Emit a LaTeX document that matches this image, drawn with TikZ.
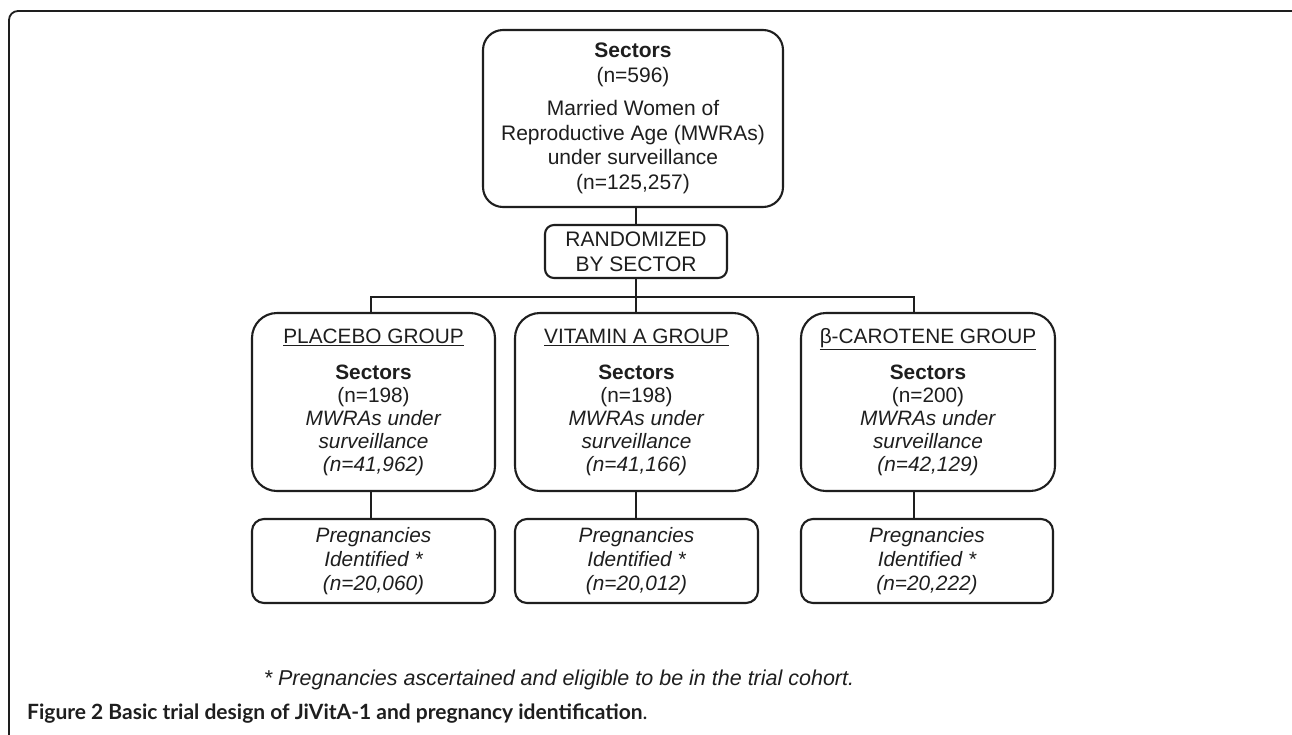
\documentclass[tikz,border=0pt]{standalone}
\usepackage{fontspec}
\setmainfont{Liberation Sans}
\newfontfamily\capfont{Lato}
\definecolor{ink}{HTML}{1E1E1E}
\begin{document}
\begin{tikzpicture}[x=1pt,y=-1pt,
  txt/.style={font=\fontsize{20.8}{24}\selectfont, text=ink, align=center, inner sep=0pt},
  rbox/.style={txt, draw=ink, line width=2.1pt, rectangle},
  topbox/.style={rbox, rounded corners=20pt, minimum width=300pt, minimum height=177pt},
  randbox/.style={rbox, rounded corners=9pt, minimum width=182pt, minimum height=53pt},
  groupbox/.style={rbox, rounded corners=25pt, minimum height=178pt},
  pregbox/.style={rbox, rounded corners=12pt, minimum height=84pt, font=\itshape\fontsize{20.8}{24}\selectfont},
  conn/.style={draw=ink, line width=2.1pt},
  frame/.style={draw=ink, line width=1.8pt, rounded corners=9pt}]
\useasboundingbox (0,0) rectangle (1292,734);
\fill[white] (0,0) rectangle (1292,734);
\draw[frame] (9,745) -- (9,11) -- (1301,11) -- (1301,745);

\node[topbox, font=\fontsize{21}{24.8}\selectfont] (top) at (633,118.5) {\textbf{Sectors}\\ (n=596)\\[8pt] Married Women of\\ Reproductive Age (MWRAs)\\ under surveillance\\ (n=125,257)};
\node[randbox, font=\fontsize{21}{25}\selectfont] (rand) at (636,251.5) {RANDOMIZED\\ BY SECTOR};

\node[groupbox, minimum width=243pt, font=\fontsize{20.8}{23}\selectfont] (pl) at (373.5,402)
  {\underline{PLACEBO GROUP}\\[13pt] \textbf{Sectors}\\ (n=198)\\ \textit{MWRAs under}\\ \textit{surveillance}\\ \textit{(n=41,962)}};
\node[groupbox, minimum width=243pt, font=\fontsize{20.8}{23}\selectfont] (va) at (636.5,402)
  {\underline{VITAMIN A GROUP}\\[13pt] \textbf{Sectors}\\ (n=198)\\ \textit{MWRAs under}\\ \textit{surveillance}\\ \textit{(n=41,166)}};
\node[groupbox, minimum width=254pt, font=\fontsize{20.8}{23}\selectfont] (bc) at (928,402)
  {\underline{β-CAROTENE GROUP}\\[13pt] \textbf{Sectors}\\ (n=200)\\ \textit{MWRAs under}\\ \textit{surveillance}\\ \textit{(n=42,129)}};

\node[pregbox, minimum width=243pt] (plp) at (373.5,561) {Pregnancies\\ Identified *\\ (n=20,060)};
\node[pregbox, minimum width=243pt] (vap) at (636.5,561) {Pregnancies\\ Identified *\\ (n=20,012)};
\node[pregbox, minimum width=252pt] (bcp) at (927,561) {Pregnancies\\ Identified *\\ (n=20,222)};

\coordinate (busL) at (371,297);
\coordinate (busM) at (636,297);
\coordinate (busR) at (914,297);

\draw[conn] (rand.north |- top.south) -- (rand.north);
\draw[conn] (rand.south) -- (busM);
\draw[conn] (busL |- pl.north) -- (busL) -- (busR) -- (busR |- bc.north);
\draw[conn] (busM) -- (busM |- va.north);
\draw[conn] (busL |- pl.south) -- (busL |- plp.north);
\draw[conn] (busM |- va.south) -- (busM |- vap.north);
\draw[conn] (busR |- bc.south) -- (busR |- bcp.north);

\node[txt, font=\itshape\fontsize{21.5}{24}\selectfont] (fn) at (559,680) {* Pregnancies ascertained and eligible to be in the trial cohort.};
\node[anchor=base west, inner sep=0pt, text=ink, font=\capfont\fontsize{21}{24}\selectfont] (cap) at (27,719)
  {\textbf{Figure 2 Basic trial design of JiVitA-1 and pregnancy identification}.};
\end{tikzpicture}
\end{document}
